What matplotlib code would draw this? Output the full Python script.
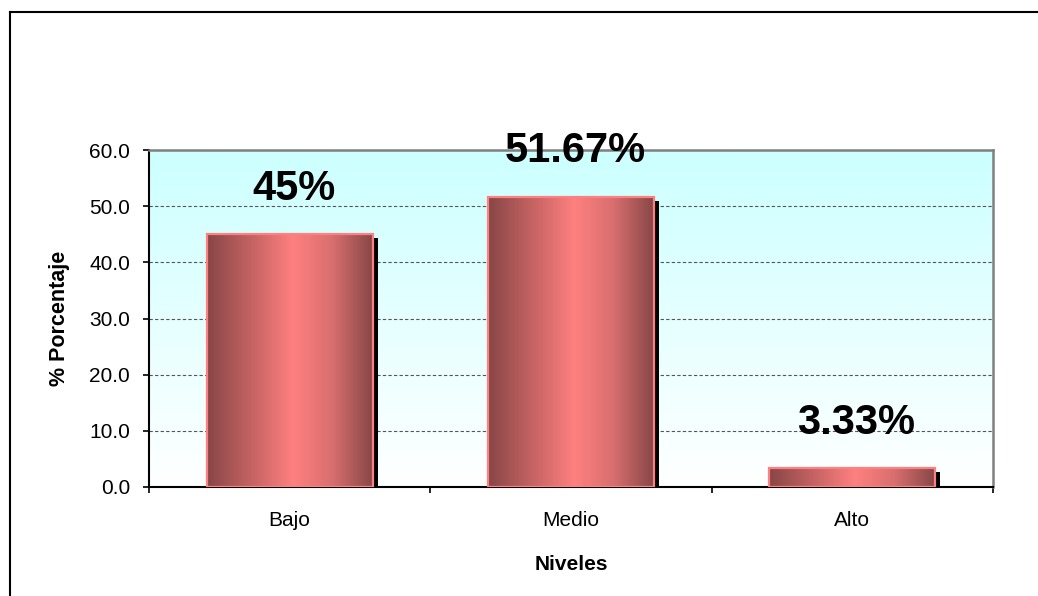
import numpy as np
import matplotlib
matplotlib.use('Agg')
import matplotlib.pyplot as plt
import matplotlib.transforms as mtransforms
from matplotlib.colors import LinearSegmentedColormap
from matplotlib.patches import Rectangle
from matplotlib.lines import Line2D

niveles = ['Bajo', 'Medio', 'Alto']
porcentajes = [45.0, 51.67, 3.33]
etiquetas = ['45%', '51.67%', '3.33%']
yticks = [0, 10, 20, 30, 40, 50, 60]

plt.rcParams['font.family'] = ['Liberation Sans', 'DejaVu Sans']

W, H = 1038, 596
fig = plt.figure(figsize=(W / 100, H / 100), dpi=100)
ax = fig.add_axes([149 / W, 1 - 487 / H, (993 - 149) / W, (487 - 150) / H])

# fondo degradado del area de trazado
fondo = LinearSegmentedColormap.from_list('fondo', ['#FFFFFF', '#CCFFFF'])
ax.imshow(np.linspace(0, 1, 256).reshape(-1, 1), cmap=fondo, origin='lower',
          extent=[0, 1, 0, 1], transform=ax.transAxes, aspect='auto', zorder=0)

# barras con degradado horizontal
barra_cmap = LinearSegmentedColormap.from_list(
    'barra', [(0, '#884646'), (0.28, '#C86464'), (0.52, '#FF8080'),
              (0.76, '#D86E6E'), (1, '#884646')])
x = np.arange(len(niveles))
bars = ax.bar(x, porcentajes, width=0.59, facecolor='none',
              edgecolor='#FF8080', linewidth=1.6, zorder=4)

sombra = mtransforms.offset_copy(ax.transData, fig=fig, x=5, y=-4, units='dots')
grad = np.linspace(0, 1, 256).reshape(1, -1)
for b in bars:
    x0, y0 = b.get_xy()
    w, h = b.get_width(), b.get_height()
    ax.add_patch(Rectangle((x0, y0), w, h, facecolor='black', edgecolor='none',
                           transform=sombra, zorder=2))
    ax.imshow(grad, cmap=barra_cmap, extent=[x0, x0 + w, y0, y0 + h],
              aspect='auto', zorder=3)

for xi, v, lbl in zip(x, porcentajes, etiquetas):
    ax.annotate(lbl, (xi, v), xytext=(3, 25), textcoords='offset points',
                ha='center', va='baseline', fontsize=30, fontweight='bold')

ax.set_xlim(-0.5, 2.5)
ax.set_ylim(0, 60)

ax.set_yticks(yticks)
ax.set_yticklabels(['%.1f' % t for t in yticks])
ax.yaxis.grid(True, linestyle=(0, (3, 2)), color='#555555', linewidth=0.8)
ax.set_axisbelow(True)

ax.set_xticks(x)
ax.set_xticklabels(niveles)
ax.set_xticks(np.arange(len(niveles) + 1) - 0.5, minor=True)
ax.tick_params(axis='x', which='major', length=0, pad=17, labelsize=15)
ax.tick_params(axis='x', which='minor', length=4.5, width=1.2, direction='out')
ax.tick_params(axis='y', length=4.5, width=1.2, direction='out', pad=9, labelsize=15)

for s in ['left', 'bottom']:
    ax.spines[s].set_color('black')
    ax.spines[s].set_linewidth(1.5)
for s in ['top', 'right']:
    ax.spines[s].set_color('#808080')
    ax.spines[s].set_linewidth(1.8)

ax.set_ylabel('% Porcentaje', fontsize=15.5, fontweight='bold')
ax.yaxis.set_label_coords(-0.094, 0.5)
ax.set_xlabel('Niveles', fontsize=15, fontweight='bold')
ax.xaxis.set_label_coords(0.5, -0.203)

# marco del grafico
fx, fy = 9.5 / W, 1 - 11.5 / H
fig.add_artist(Line2D([fx, fx], [0, fy], color='black', linewidth=1.5))
fig.add_artist(Line2D([fx, 1], [fy, fy], color='black', linewidth=1.5))

fig.savefig('out.png', dpi=100)
